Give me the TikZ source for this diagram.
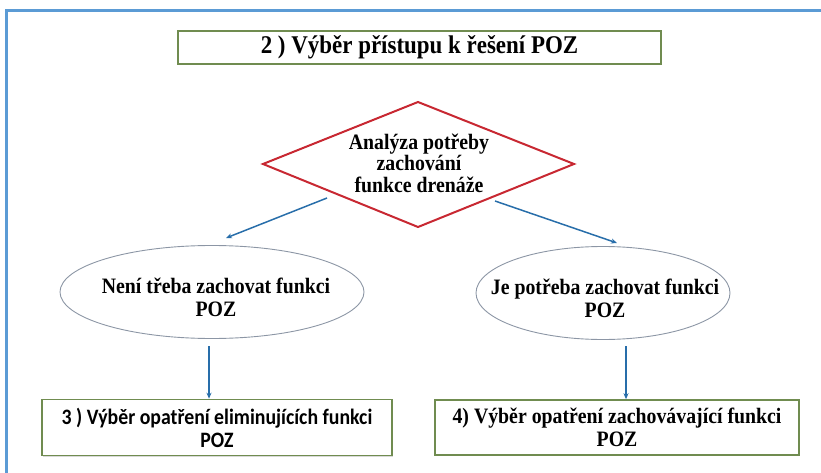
\documentclass[tikz,border=0pt]{standalone}
\usepackage{fontspec}
\setmainfont{Liberation Serif}
\newfontfamily\tallserif[FakeStretch=0.9]{Liberation Serif}
\newfontfamily\calibrifont[FakeStretch=0.9]{Carlito}
\usetikzlibrary{shapes.geometric,arrows.meta,shadows}
\definecolor{framebl}{RGB}{91,155,213}
\definecolor{boxgr}{RGB}{112,140,80}
\definecolor{diared}{RGB}{200,40,50}
\definecolor{arrbl}{RGB}{40,110,170}
\definecolor{ellgr}{RGB}{140,150,165}
\begin{document}
\begin{tikzpicture}[x=1pt,y=-1pt,
  gbox/.style={draw=boxgr, line width=1.6pt, fill=white, inner sep=0pt,
    drop shadow={shadow xshift=1pt,shadow yshift=-1.2pt,fill=black!25,opacity=.6}},
  ell/.style={draw=ellgr, line width=0.9pt, ellipse, inner sep=0pt},
  lbl/.style={align=center, inner sep=0pt},
  arr/.style={draw=arrbl, line width=1.5pt, -{Stealth[length=6pt,width=5pt]}},
]
\useasboundingbox (0,0) rectangle (821,473);
\draw[framebl, line width=3pt] (830,11) -- (6,11) -- (6,480);

% title
\node[gbox, lbl, minimum width=483pt, minimum height=33pt,
  font=\tallserif\bfseries\fontsize{25.5}{27}\selectfont] (title) at (419.5,47.5)
  {2 ) Výběr přístupu k řešení POZ};

% decision diamond
\coordinate (dl) at (263,164);
\coordinate (dt) at (418,102);
\coordinate (dr) at (574,164);
\coordinate (db) at (418,227);
\draw[diared, line width=2pt, line join=miter] (dl) -- (dt) -- (dr) -- (db) -- cycle;
\node[lbl, font=\tallserif\bfseries\fontsize{22}{21.5}\selectfont] (dtext) at (419,163)
  {Analýza potřeby\\zachování\\funkce drenáže};

% ellipses
\node[ell, minimum width=304pt, minimum height=93pt] (e1) at (212,292) {};
\node[lbl, font=\tallserif\bfseries\fontsize{22}{23}\selectfont] (e1text) at (216,297)
  {Není třeba zachovat funkci\\POZ};
\node[ell, minimum width=254pt, minimum height=93pt] (e2) at (603,293) {};
\node[lbl, font=\tallserif\bfseries\fontsize{22}{23}\selectfont] (e2text) at (605,298)
  {Je potřeba zachovat funkci\\POZ};

% result boxes
\node[gbox, lbl, minimum width=350pt, minimum height=56pt,
  font=\calibrifont\bfseries\fontsize{22}{23}\selectfont] (b3) at (217,427.5)
  {3 ) Výběr opatření eliminujících funkci\\POZ};
\node[gbox, lbl, minimum width=364pt, minimum height=55pt,
  font=\tallserif\bfseries\fontsize{22}{23}\selectfont] (b4) at (617,427.5)
  {4) Výběr opatření zachovávající funkci\\POZ};

% connectors
\coordinate (a1s) at (327,198);
\coordinate (a1e) at (226,238);
\coordinate (a2s) at (495,201);
\coordinate (a2e) at (617,243);
\draw[arr] (a1s) -- (a1e);
\draw[arr] (a2s) -- (a2e);
\coordinate (v1s) at (209,346);
\coordinate (v2s) at (626,346);
\draw[arr] (v1s) -- (v1s |- b3.north);
\draw[arr] (v2s) -- (v2s |- b4.north);
\end{tikzpicture}
\end{document}
